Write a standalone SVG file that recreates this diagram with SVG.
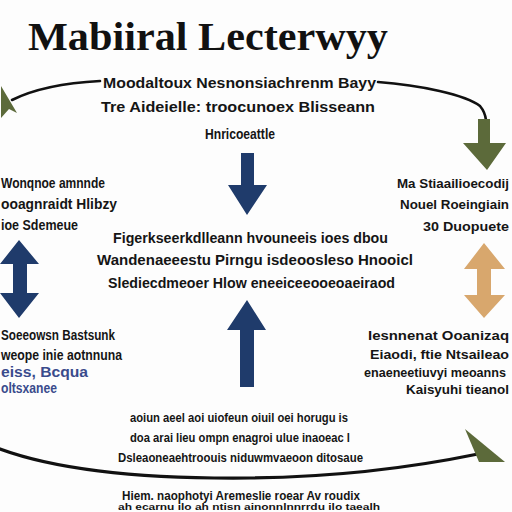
<svg xmlns="http://www.w3.org/2000/svg" width="512" height="512" viewBox="0 0 512 512">
<style>
.t{font-family:"Liberation Sans",Arial,sans-serif;font-weight:bold;fill:#151515}
.s{font-size:15px}
.m{font-size:14px}
.b{font-size:13px}
.r{font-size:13.5px;text-anchor:end}
.blue{fill:#3a4b8c}
.title{font-family:"Liberation Serif","Times New Roman",serif;font-weight:bold;font-size:39px;fill:#111}
.curve{fill:none;stroke:#111;stroke-linecap:round}
.navy{fill:#1f3b6b}
.tan{fill:#d8a76d}
.olive{fill:#5c6a3a}
</style>
<rect width="512" height="512" fill="#fdfdfd"/>
<g id="connectors">
<path class="curve" stroke-width="2.6" d="M100,81 C62,83 32,90 12,100"/>
<polygon class="olive" points="1,86 17,113 9,109 1,118"/>
<path class="curve" stroke-width="2.6" d="M378,82 C420,85 466,95 480,106 Q485,112 486,120"/>
<polygon class="olive" points="478,119 490,119 490,143 506,143 487,170 463,143 478,143"/>
<polygon class="navy" points="241,153 254,153 254,185 267,185 247,215 228,185 241,185"/>
<polygon class="navy" points="247,300 266,330 254,330 254,387 240,387 240,330 227,330"/>
<polygon class="navy" points="19,240 39,264 27,264 27,293 39,293 19,318 0,293 13,293 13,264 0,264"/>
<polygon class="tan" points="484,243 505,269 491,269 491,295 505,295 484,318 464,295 477,295 477,269 464,269"/>
<path class="curve" stroke-width="3.2" d="M0,449 C60,471 150,479 250,478 C340,477 410,468 478,454"/>
<polygon class="olive" points="465,429 505,462 479,462"/>
</g>
<g id="title"><text class="title" x="28" y="50" textLength="360" lengthAdjust="spacingAndGlyphs">Mabiiral Lecterwyy</text></g>
<g id="top-text">
<text class="t s" x="103" y="88" textLength="273" lengthAdjust="spacingAndGlyphs">Moodaltoux Nesnonsiachrenm Bayy</text>
<text class="t s" x="101" y="112" textLength="274" lengthAdjust="spacingAndGlyphs">Tre Aideielle: troocunoex Blisseann</text>
<text class="t s" x="205" y="139" textLength="70" lengthAdjust="spacingAndGlyphs">Hnricoeattle</text>
</g>
<g id="center-text">
<text class="t s" x="113" y="243" textLength="275" lengthAdjust="spacingAndGlyphs">Figerkseerkdlleann hvouneeis ioes dbou</text>
<text class="t s" x="97" y="265" textLength="316" lengthAdjust="spacingAndGlyphs">Wandenaeeestu Pirngu isdeoosleso Hnooicl</text>
<text class="t s" x="108" y="288" textLength="287" lengthAdjust="spacingAndGlyphs">Slediecdmeoer Hlow eneeiceeooeoaeiraod</text>
</g>
<g id="left-top">
<text class="t m" x="1" y="188" textLength="104" lengthAdjust="spacingAndGlyphs">Wonqnoe amnnde</text>
<text class="t m" x="1" y="209" textLength="116" lengthAdjust="spacingAndGlyphs">ooagnraidt Hlibzy</text>
<text class="t m" x="1" y="230" textLength="77" lengthAdjust="spacingAndGlyphs">ioe Sdemeue</text>
</g>
<g id="left-bottom">
<text class="t m" x="1" y="340" textLength="114" lengthAdjust="spacingAndGlyphs">Soeeowsn Bastsunk</text>
<text class="t m" x="1" y="360" textLength="121" lengthAdjust="spacingAndGlyphs">weope inie aotnnuna</text>
<text class="t m blue" x="1" y="377" textLength="87" lengthAdjust="spacingAndGlyphs">eiss, Bcqua</text>
<text class="t m blue" x="1" y="393" textLength="56" lengthAdjust="spacingAndGlyphs">oltsxanee</text>
</g>
<g id="right-top">
<text class="t r" x="509" y="188" textLength="112" lengthAdjust="spacingAndGlyphs">Ma Stiaailioecodij</text>
<text class="t r" x="509" y="209" textLength="109" lengthAdjust="spacingAndGlyphs">Nouel Roeingiain</text>
<text class="t r" x="509" y="231" textLength="86" lengthAdjust="spacingAndGlyphs">30 Duopuete</text>
</g>
<g id="right-bottom">
<text class="t r" x="509" y="340" textLength="141" lengthAdjust="spacingAndGlyphs">Iesnnenat Ooanizaq</text>
<text class="t r" x="509" y="359" textLength="139" lengthAdjust="spacingAndGlyphs">Eiaodi, ftie Ntsaileao</text>
<text class="t" x="364" y="377" font-size="12" textLength="142" lengthAdjust="spacingAndGlyphs">enaeneetiuvyi meoanns</text>
<text class="t r" x="509" y="394" textLength="103" lengthAdjust="spacingAndGlyphs">Kaisyuhi tieanol</text>
</g>
<g id="bottom-text">
<text class="t b" x="130" y="422" textLength="218" lengthAdjust="spacingAndGlyphs">aoiun aeel aoi uiofeun oiuil oei horugu is</text>
<text class="t b" x="130" y="442" textLength="220" lengthAdjust="spacingAndGlyphs">doa arai lieu ompn enagroi ulue inaoeac l</text>
<text class="t b" x="118" y="462" textLength="245" lengthAdjust="spacingAndGlyphs">Dsleaoneaehtroouis niduwmvaeoon ditosaue</text>
</g>
<g id="bottom-caption">
<text class="t b" x="122" y="500" textLength="238" lengthAdjust="spacingAndGlyphs">Hiem. naophotyi Aremeslie roear Av roudix</text>
<text class="t" font-size="9" x="118" y="510" textLength="262" lengthAdjust="spacingAndGlyphs">ah ecarnu ilo ah ntisn ainonnlnnrrdu ilo taealh</text>
</g>
</svg>
